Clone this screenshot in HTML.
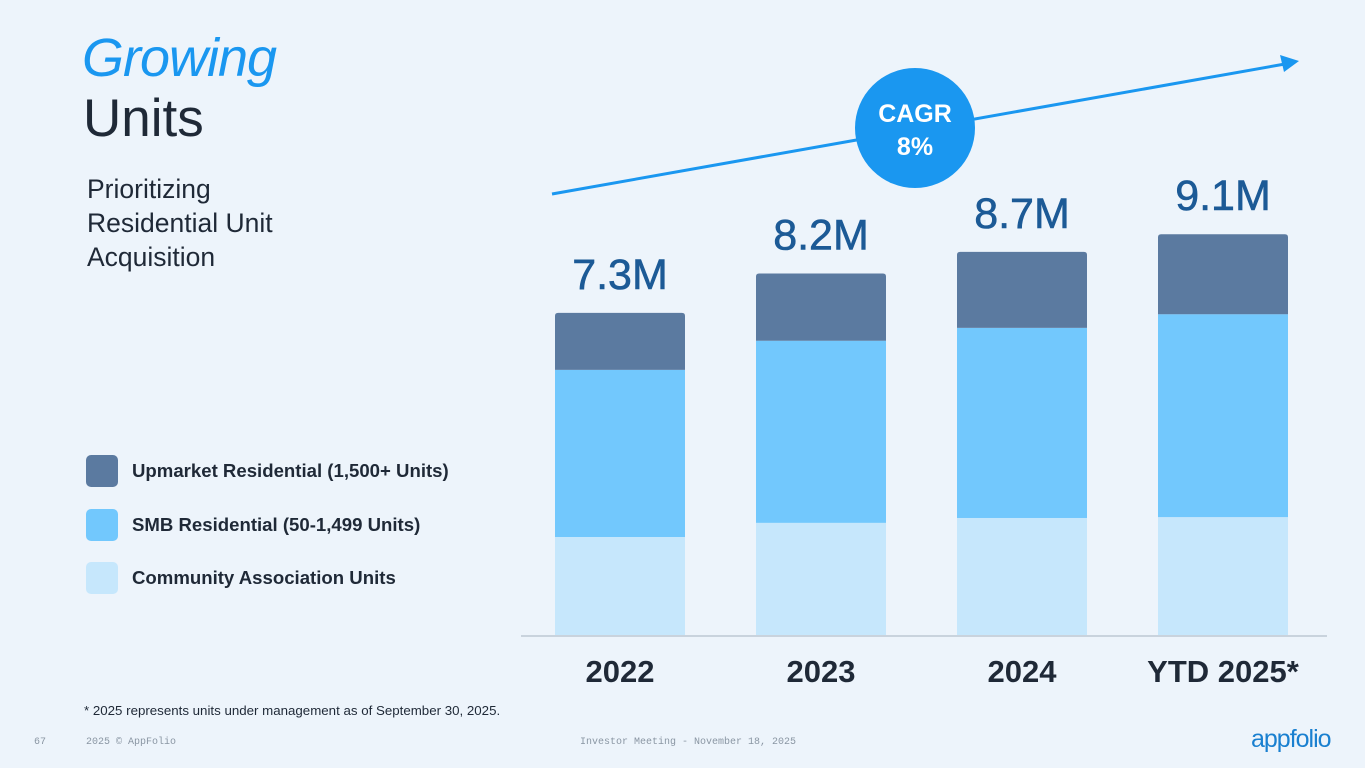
<!DOCTYPE html>
<html><head><meta charset="utf-8"><style>
body{margin:0;width:1365px;height:768px;background:#edf4fb;font-family:"Liberation Sans",sans-serif;position:relative;overflow:hidden}
.abs{position:absolute}
</style></head><body>
<div class="abs" style="left:82px;top:27px;font-size:54px;font-style:italic;color:#1a97f0;letter-spacing:-1px">Growing</div>
<div class="abs" style="left:83px;top:88px;font-size:53px;color:#1f2937">Units</div>
<div class="abs" style="left:87px;top:172px;font-size:26.5px;line-height:34px;color:#1f2937">Prioritizing<br>Residential Unit<br>Acquisition</div>
<div class="abs" style="left:86px;top:455px">
 <div style="position:absolute;top:0;display:flex;align-items:center;white-space:nowrap"><span style="width:32px;height:32px;border-radius:5px;background:#5b7aa0;display:inline-block"></span><span style="margin-left:14px;font-weight:bold;font-size:18.6px;color:#1f2937">Upmarket Residential (1,500+ Units)</span></div>
 <div style="position:absolute;top:54px;display:flex;align-items:center;white-space:nowrap"><span style="width:32px;height:32px;border-radius:5px;background:#72c8fd;display:inline-block"></span><span style="margin-left:14px;font-weight:bold;font-size:18.6px;color:#1f2937">SMB Residential (50-1,499 Units)</span></div>
 <div style="position:absolute;top:107px;display:flex;align-items:center;white-space:nowrap"><span style="width:32px;height:32px;border-radius:5px;background:#c6e7fc;display:inline-block"></span><span style="margin-left:14px;font-weight:bold;font-size:18.6px;color:#1f2937">Community Association Units</span></div>
</div>
<svg class="abs" style="left:0;top:0" width="1365" height="768">
 <g id="bars"></g>
 <line x1="521" y1="636" x2="1327" y2="636" stroke="#c9d3dd" stroke-width="2"/>
 <line x1="552" y1="194" x2="1285" y2="64" stroke="#1a97f0" stroke-width="3"/>
 <polygon points="1299,61 1280,55 1284,72" fill="#1a97f0"/>
 <circle cx="915" cy="128" r="60" fill="#1a97f0"/>
 <text x="915" y="122" text-anchor="middle" font-size="25" font-weight="bold" fill="#fff" font-family="Liberation Sans">CAGR</text>
 <text x="915" y="155" text-anchor="middle" font-size="25" font-weight="bold" fill="#fff" font-family="Liberation Sans">8%</text>
</svg>
<div class="abs" style="left:84px;top:703px;font-size:13.3px;color:#1f2937">* 2025 represents units under management as of September 30, 2025.</div>
<div class="abs" style="left:34px;top:737px;font-size:10px;color:#8a96a3;font-family:'Liberation Mono',monospace">67</div>
<div class="abs" style="left:86px;top:737px;font-size:10px;color:#8a96a3;font-family:'Liberation Mono',monospace">2025 © AppFolio</div>
<div class="abs" style="left:580px;top:737px;font-size:10px;color:#8a96a3;font-family:'Liberation Mono',monospace">Investor Meeting - November 18, 2025</div>
<div class="abs" style="left:1251px;top:725px;font-size:25px;color:#1a80d0;letter-spacing:-1px">appfolio</div>
<script>
const categories=["2022","2023","2024","YTD 2025*"];
const community=[2.24,2.56,2.67,2.69];
const smb=[3.78,4.12,4.30,4.59];
const upmarket=[1.29,1.52,1.72,1.81];
const totals=["7.3M","8.2M","8.7M","9.1M"];
const NS="http://www.w3.org/2000/svg";
const g=document.getElementById('bars');
const base=636,scale=44.2;
function xPos(i){return 555+i*201;}
function yH(v){return v*scale;}
const colors=["#c6e7fc","#72c8fd","#5b7aa0"];
const names=["community","smb","upmarket"];
categories.forEach((c,i)=>{
 let y=base;
 [community[i],smb[i],upmarket[i]].forEach((v,k)=>{
  const h=yH(v);y-=h;
  const r=document.createElementNS(NS,k==2?'path':'rect');
  if(k==2){const x=xPos(i),w=130,rr=3;r.setAttribute('d',`M${x},${y+h}V${y+rr}Q${x},${y} ${x+rr},${y}H${x+w-rr}Q${x+w},${y} ${x+w},${y+rr}V${y+h}Z`);}
  else{r.setAttribute('x',xPos(i));r.setAttribute('y',y);r.setAttribute('width',130);r.setAttribute('height',h);}
  r.setAttribute('fill',colors[k]);
  
  
  g.appendChild(r);
 });
 const t=document.createElementNS(NS,'text');
 t.setAttribute('x',xPos(i)+65);t.setAttribute('y',y-24);t.setAttribute('text-anchor','middle');
 t.setAttribute('font-size','43');t.setAttribute('fill','#1c5a96');t.setAttribute('font-family','Liberation Sans');
 t.setAttribute('stroke','#1c5a96');t.setAttribute('stroke-width','0.6');
 t.textContent=totals[i];
 
 
 g.appendChild(t);
 const l=document.createElementNS(NS,'text');
 l.setAttribute('x',xPos(i)+65);l.setAttribute('y',682);l.setAttribute('text-anchor','middle');
 l.setAttribute('font-size','31');l.setAttribute('font-weight','bold');l.setAttribute('fill','#1f2937');l.setAttribute('font-family','Liberation Sans');
 l.textContent=c;
 
 
 g.appendChild(l);
});
</script>
</body></html>
